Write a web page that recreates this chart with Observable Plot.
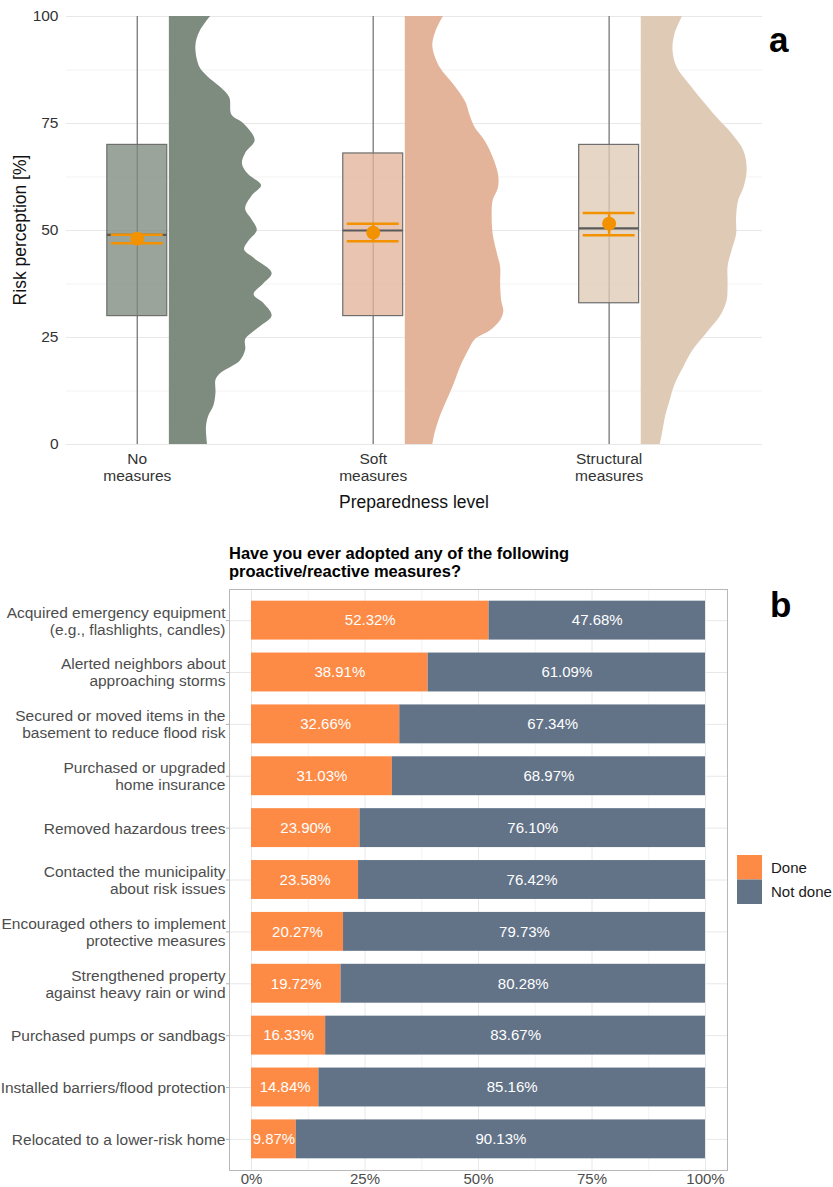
<!DOCTYPE html>
<html>
<head>
<meta charset="utf-8">
<script src="https://cdn.jsdelivr.net/npm/d3@7"></script>
<script src="https://cdn.jsdelivr.net/npm/@observablehq/plot@0.6"></script>
<style>
  html, body { margin: 0; padding: 0; background: #fff; overflow: hidden; }
  #root { position: relative; width: 833px; height: 1187px; }
  #root > svg { position: absolute; left: 0; }
</style>
</head>
<body>
<div id="root"></div>
<script>
// ---------- Panel a: risk perception by preparedness level ----------
const groups = ["No measures", "Soft measures", "Structural measures"];
const groupLabels = ["No\nmeasures", "Soft\nmeasures", "Structural\nmeasures"];
const groupColors = ["#7e8b7f", "#e3b49a", "#dfcab5"];
const riskTicks = [0, 25, 50, 75, 100];
const riskMinorTicks = [12.5, 37.5, 62.5, 87.5];

// box-plot summaries
const boxQ1 = [30, 30, 33];
const boxMedian = [49, 50, 50.5];
const boxQ3 = [70, 68, 70];
const whiskerLow = [0, 0, 0];
const whiskerHigh = [100, 100, 100];
// mean with confidence interval
const meanValue = [48.1, 49.5, 51.6];
const ciLow = [47, 47.5, 48.9];
const ciHigh = [49, 51.6, 54.1];

// half-violin densities (normalised so the widest point is 1)
const noMeasuresRisk = [100, 96.5, 93, 88, 86, 83.5, 81, 77, 75, 71, 68, 65.5, 63, 60.5, 58, 55, 52.5, 50, 47.5, 45.5, 43.5, 40, 37.5, 35, 33, 30, 27.5, 26, 24.5, 22, 19.5, 18, 16.5, 15, 12, 9, 6.5, 4, 0];
const noMeasuresDensity = [0.39, 0.29, 0.25, 0.29, 0.36, 0.48, 0.57, 0.59, 0.70, 0.81, 0.72, 0.69, 0.75, 0.87, 0.78, 0.72, 0.78, 0.83, 0.75, 0.71, 0.80, 0.97, 0.89, 0.80, 0.89, 0.97, 0.86, 0.78, 0.72, 0.72, 0.67, 0.58, 0.48, 0.44, 0.44, 0.42, 0.37, 0.35, 0.36];
const softRisk = [100, 96.5, 93, 88, 84, 80, 77, 74, 71, 67, 63, 60, 57, 54, 49, 44.5, 41.5, 37.5, 33.5, 31, 29, 26.5, 24.5, 22, 18, 14, 10, 6.5, 2.5, 0];
const softDensity = [0.36, 0.29, 0.26, 0.33, 0.46, 0.57, 0.61, 0.66, 0.75, 0.83, 0.88, 0.88, 0.83, 0.82, 0.83, 0.87, 0.90, 0.90, 0.91, 0.93, 0.90, 0.80, 0.66, 0.60, 0.52, 0.46, 0.39, 0.33, 0.28, 0.26];
const structuralRisk = [100, 96, 92, 88, 84, 80, 76.5, 72.5, 68.5, 64, 60, 57, 53, 49, 45.5, 41.5, 37.5, 33.5, 30, 26, 22, 18, 14, 10, 6.5, 2.5, 0];
const structuralDensity = [0.39, 0.32, 0.30, 0.34, 0.46, 0.59, 0.71, 0.86, 0.97, 1.00, 0.97, 0.92, 0.90, 0.90, 0.86, 0.82, 0.82, 0.81, 0.75, 0.62, 0.49, 0.40, 0.32, 0.27, 0.23, 0.20, 0.18];

// ---------- Panel b: adopted measures ----------
const measures = [
  "Acquired emergency equipment\n(e.g., flashlights, candles)",
  "Alerted neighbors about\napproaching storms",
  "Secured or moved items in the\nbasement to reduce flood risk",
  "Purchased or upgraded\nhome insurance",
  "Removed hazardous trees",
  "Contacted the municipality\nabout risk issues",
  "Encouraged others to implement\nprotective measures",
  "Strengthened property\nagainst heavy rain or wind",
  "Purchased pumps or sandbags",
  "Installed barriers/flood protection",
  "Relocated to a lower-risk home"
];
const donePct = [52.32, 38.91, 32.66, 31.03, 23.90, 23.58, 20.27, 19.72, 16.33, 14.84, 9.87];
const notDonePct = [47.68, 61.09, 67.34, 68.97, 76.10, 76.42, 79.73, 80.28, 83.67, 85.16, 90.13];
const statusLevels = ["Done", "Not done"];
const statusColors = ["#fd8b46", "#627388"];
const pctTicks = [0, 25, 50, 75, 100];
const pctMinorTicks = [12.5, 37.5, 62.5, 87.5];

const FONT = "'Liberation Sans', Arial, Helvetica, sans-serif";
const ORANGE = "#f29200";
const root = document.getElementById("root");

// ----- build panel a -----
const BOX_HALF = 0.127, VIOLIN_GAP = 0.136, VIOLIN_WIDTH = 0.449, CI_HALF = 0.11;
const cats = groups.map((g, i) => i + 1);
const boxRows = groups.map((g, i) => ({
  group: g, cat: i + 1, q1: boxQ1[i], med: boxMedian[i], q3: boxQ3[i],
  lo: whiskerLow[i], hi: whiskerHigh[i], mean: meanValue[i],
  ciLo: ciLow[i], ciHi: ciHigh[i], color: groupColors[i]
}));
const densitySets = [
  [noMeasuresRisk, noMeasuresDensity],
  [softRisk, softDensity],
  [structuralRisk, structuralDensity]
];
const violinMarks = densitySets.map(([risk, dens], i) =>
  Plot.areaX(risk.map((r, j) => ({risk: r, density: dens[j]})), {
    y: "risk",
    x1: () => i + 1 + VIOLIN_GAP,
    x2: d => i + 1 + VIOLIN_GAP + d.density * VIOLIN_WIDTH,
    fill: groupColors[i],
    curve: "catmull-rom"
  })
);

const plotA = Plot.plot({
  width: 833, height: 520,
  marginLeft: 66, marginRight: 71, marginTop: 16, marginBottom: 76,
  style: {fontFamily: FONT, fontSize: "15.5px", color: "#333", background: "transparent", overflow: "visible"},
  x: {type: "linear", domain: [0.7, 3.65], label: null},
  y: {domain: [0, 100], label: null},
  color: {type: "identity"},
  marks: [
    Plot.ruleY(riskMinorTicks, {stroke: "#f3f3f3", strokeWidth: 1}),
    Plot.ruleY(riskTicks, {stroke: "#e8e8e8", strokeWidth: 1}),
    Plot.ruleX(boxRows, {x: "cat", y1: "lo", y2: "hi", stroke: "#808080", strokeWidth: 1.4}),
    Plot.rect(boxRows, {
      x1: d => d.cat - BOX_HALF, x2: d => d.cat + BOX_HALF, y1: "q1", y2: "q3",
      fill: "color", fillOpacity: 0.78, stroke: "#6e6e6e", strokeWidth: 1.2
    }),
    Plot.ruleY(boxRows, {y: "med", x1: d => d.cat - BOX_HALF, x2: d => d.cat + BOX_HALF, stroke: "#5a5a5a", strokeWidth: 2.2}),
    ...violinMarks,
    Plot.ruleY(boxRows, {y: "ciLo", x1: d => d.cat - CI_HALF, x2: d => d.cat + CI_HALF, stroke: ORANGE, strokeWidth: 2.5}),
    Plot.ruleY(boxRows, {y: "ciHi", x1: d => d.cat - CI_HALF, x2: d => d.cat + CI_HALF, stroke: ORANGE, strokeWidth: 2.5}),
    Plot.ruleX(boxRows, {x: "cat", y1: "ciLo", y2: "ciHi", stroke: ORANGE, strokeWidth: 2.5}),
    Plot.dot(boxRows, {x: "cat", y: "mean", r: 7, fill: ORANGE}),
    Plot.axisY({ticks: riskTicks, tickSize: 0, tickPadding: 8, color: "#333", fontSize: 15.5}),
    Plot.axisX({ticks: cats, tickFormat: d => groupLabels[d - 1], tickSize: 0, tickPadding: 7, color: "#333", fontSize: 15.5, lineHeight: 1.1})
  ]
});
plotA.style.top = "0px";
root.appendChild(plotA);

// ----- build panel b -----
const barRows = [];
measures.forEach((m, i) => {
  barRows.push({measure: m, status: "Done", pct: donePct[i]});
  barRows.push({measure: m, status: "Not done", pct: notDonePct[i]});
});

const plotB = Plot.plot({
  width: 833, height: 657,
  marginLeft: 229, marginRight: 106, marginTop: 59, marginBottom: 17,
  style: {fontFamily: FONT, fontSize: "15px", color: "#4d4d4d", background: "transparent", overflow: "visible"},
  x: {domain: [0, 100], insetLeft: 22, insetRight: 22, label: null},
  y: {domain: measures, paddingInner: 0.25, paddingOuter: 0.225, round: false, label: null},
  color: {domain: statusLevels, range: statusColors},
  marks: [
    Plot.ruleX(pctMinorTicks, {stroke: "#f3f3f3"}),
    Plot.ruleX(pctTicks, {stroke: "#e8e8e8"}),
    Plot.gridY({stroke: "#e8e8e8", strokeOpacity: 1}),
    Plot.barX(barRows, {x: "pct", y: "measure", fill: "status"}),
    Plot.text(barRows, Plot.stackX({
      x: "pct", y: "measure", text: d => d.pct.toFixed(2) + "%",
      fill: "white", fontSize: 15
    })),
    Plot.frame({stroke: "#b8b8b8"}),
    Plot.axisY({tickSize: 3, tickPadding: 1, stroke: "#b3b3b3", color: "#4d4d4d", fontSize: 15.5, lineHeight: 1.1}),
    Plot.axisX({ticks: pctTicks, tickFormat: d => d + "%", tickSize: 0, tickPadding: 3, color: "#4d4d4d", fontSize: 15})
  ]
});
plotB.style.top = "530px";
root.appendChild(plotB);

// ----- titles, panel tags and legend -----
const overlay = d3.select(root).append("svg")
  .attr("width", 833).attr("height", 1187)
  .style("top", "0px").style("pointer-events", "none")
  .style("font-family", FONT);

overlay.append("text")
  .attr("transform", "translate(20,230) rotate(-90)")
  .attr("text-anchor", "middle").attr("dominant-baseline", "central")
  .attr("font-size", 17.5).attr("fill", "#111")
  .text("Risk perception [%]");
overlay.append("text")
  .attr("x", 414).attr("y", 508)
  .attr("text-anchor", "middle")
  .attr("font-size", 17.5).attr("fill", "#111")
  .text("Preparedness level");

overlay.append("text").attr("x", 769).attr("y", 52)
  .attr("font-size", 35).attr("font-weight", "bold").attr("fill", "#000").text("a");
overlay.append("text").attr("x", 770).attr("y", 617)
  .attr("font-size", 35).attr("font-weight", "bold").attr("fill", "#000").text("b");

const titleB = overlay.append("text").attr("font-size", 16.5).attr("font-weight", "bold").attr("fill", "#000");
titleB.append("tspan").attr("x", 229).attr("y", 559).text("Have you ever adopted any of the following");
titleB.append("tspan").attr("x", 229).attr("y", 577).text("proactive/reactive measures?");

const legend = overlay.append("g");
statusLevels.forEach((s, i) => {
  legend.append("rect").attr("x", 737).attr("y", 855 + i * 24.5)
    .attr("width", 25).attr("height", 24.5).attr("fill", statusColors[i]);
  legend.append("text").attr("x", 771).attr("y", 872.5 + i * 24.5)
    .attr("font-size", 15).attr("fill", "#1a1a1a").text(s);
});
</script>
</body>
</html>
